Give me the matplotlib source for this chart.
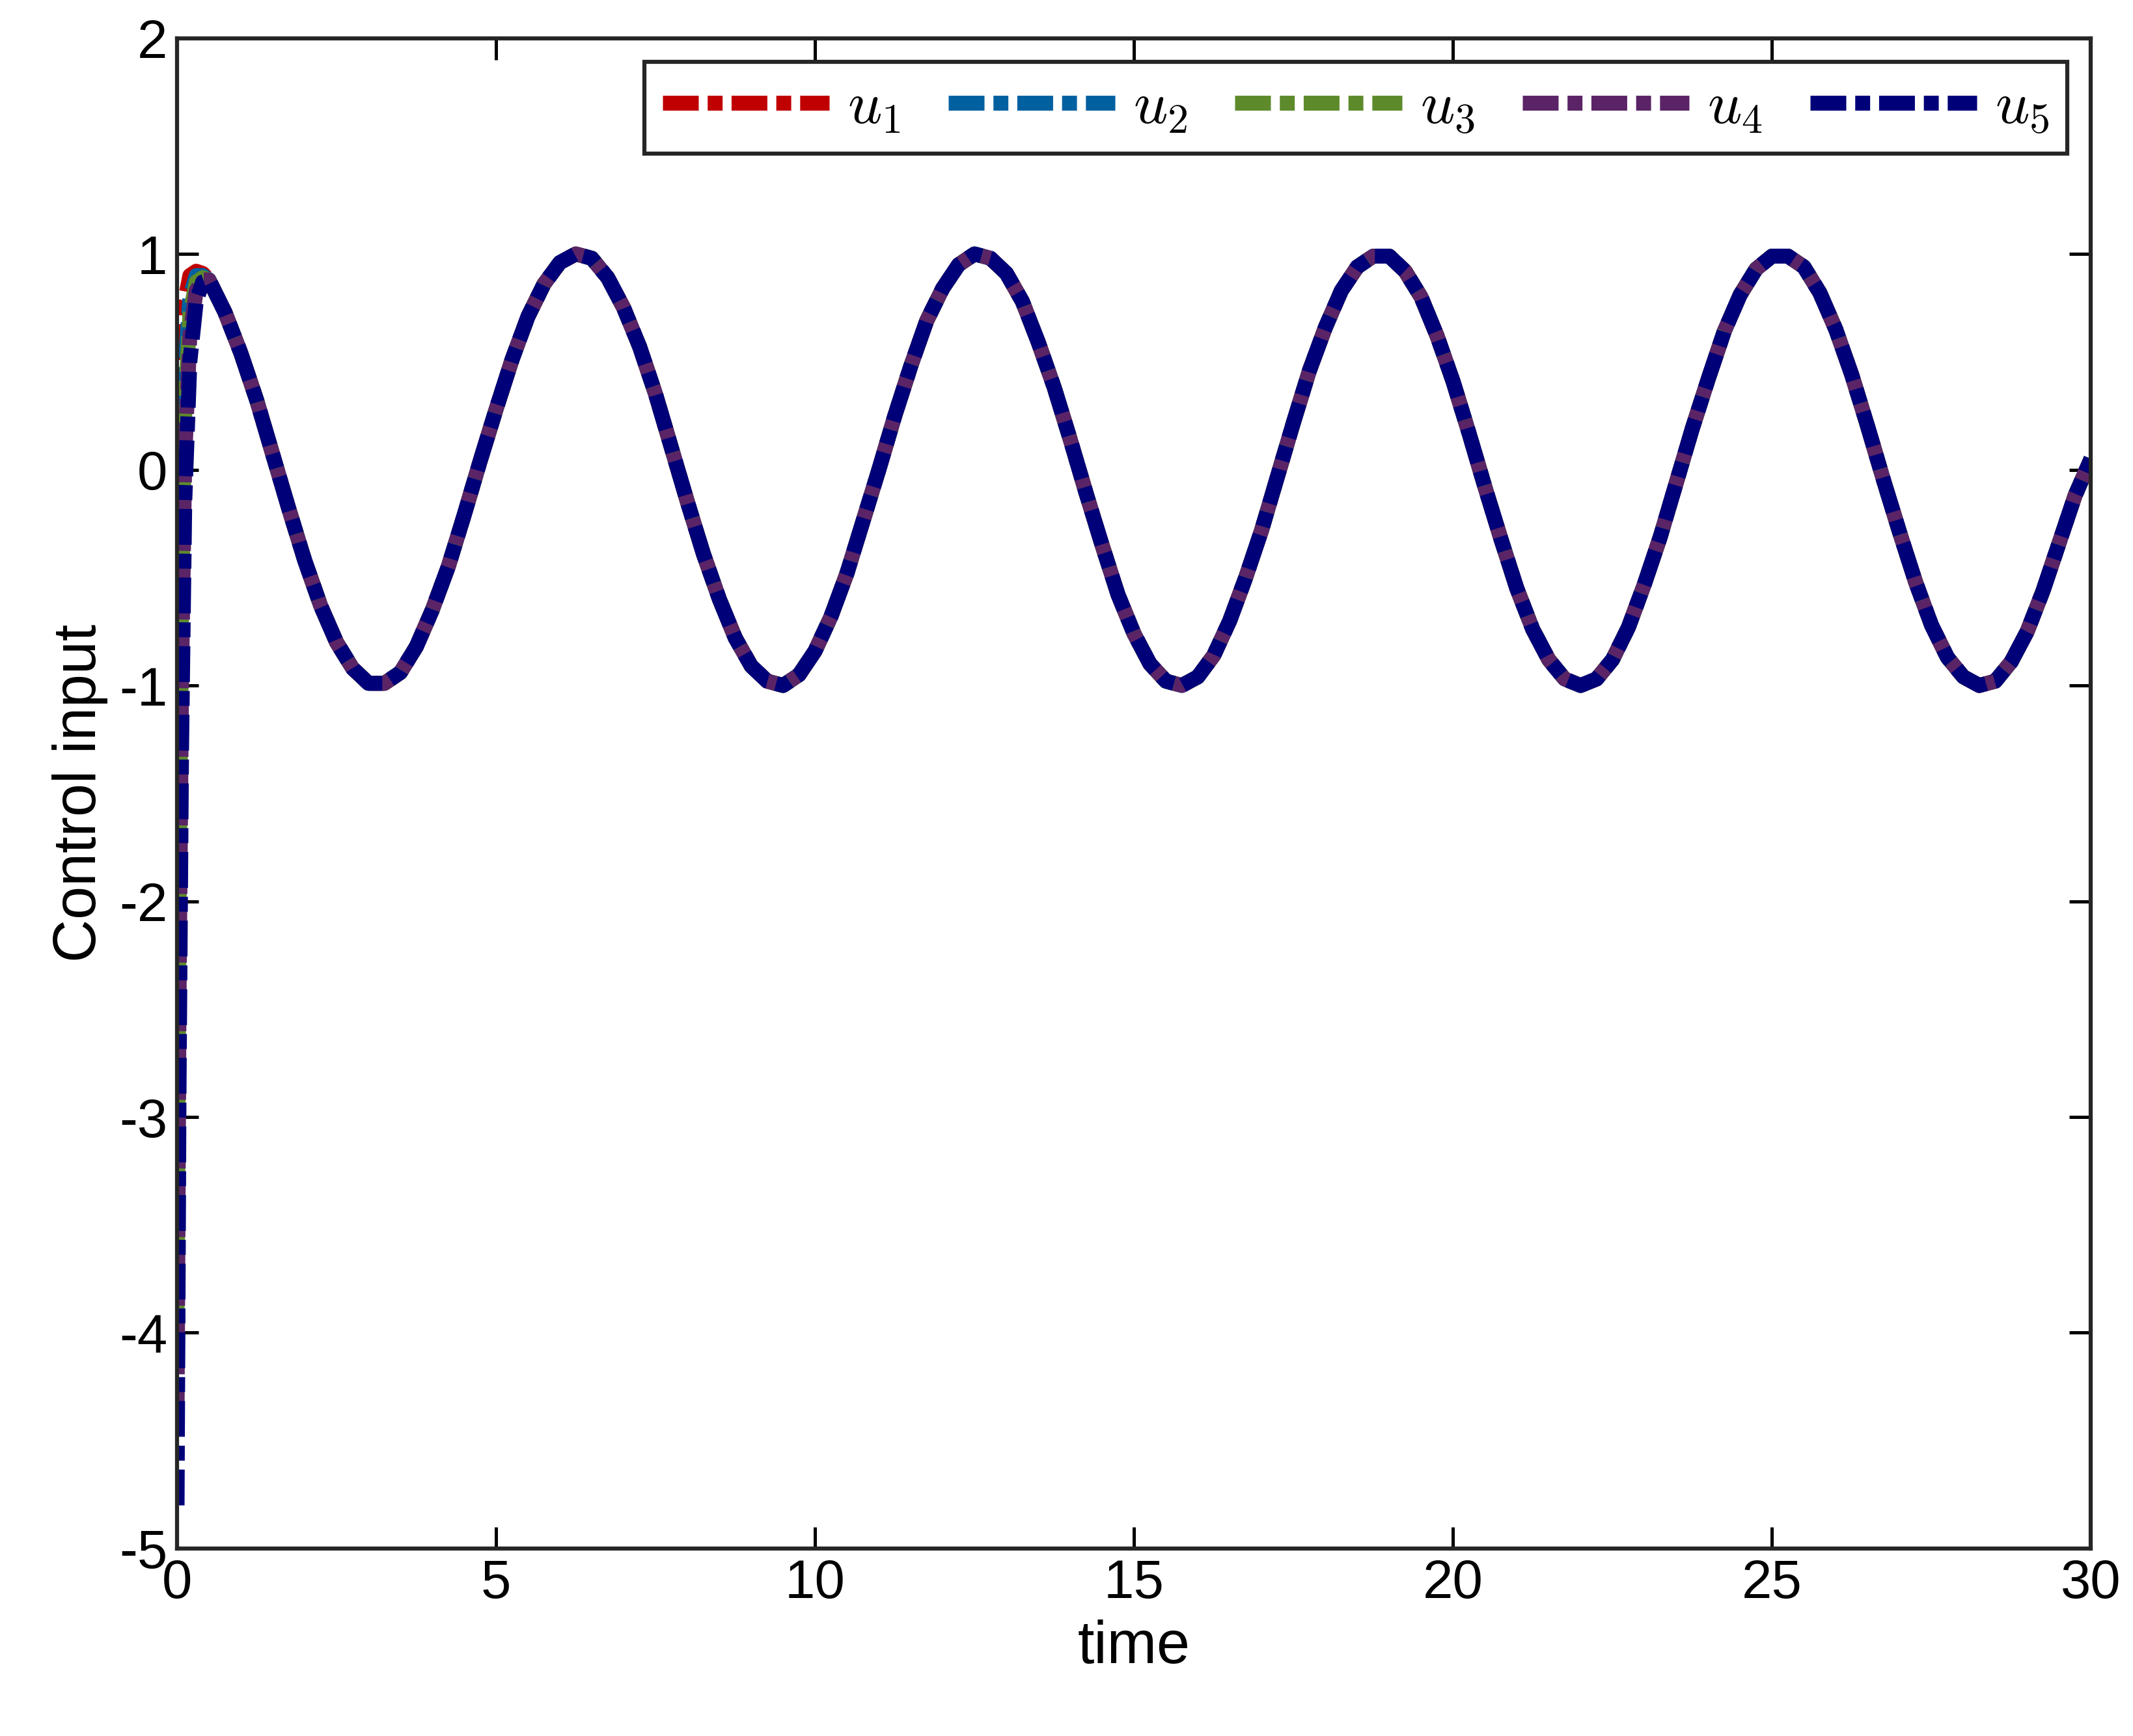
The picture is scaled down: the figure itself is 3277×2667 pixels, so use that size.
import matplotlib.pyplot as plt
import numpy as np

plt.rcParams["font.family"] = ["Liberation Sans", "DejaVu Sans"]
plt.rcParams["mathtext.fontset"] = "cm"
plt.rcParams["axes.unicode_minus"] = False

# start-up transient of each input (time, value)
t_tr = [0.0, 0.03, 0.07, 0.12, 0.2, 0.3, 0.4]
u1_tr = [-1.4, -0.3, 0.4, 0.78, 0.9, 0.92, 0.91]
u2_tr = [-3.3, -1.6, -0.3, 0.45, 0.8, 0.9, 0.9]
u3_tr = [-4.0, -2.1, -0.7, 0.25, 0.72, 0.87, 0.89]
u4_tr = [-4.4, -2.5, -1.0, 0.05, 0.62, 0.83, 0.88]
u5_tr = [-4.8, -2.9, -1.3, -0.15, 0.5, 0.78, 0.87]

# common steady response, every 0.25 s from t=0.5 to 30
u_ss = [0.88, 0.73, 0.54, 0.32, 0.07, -0.18, -0.42, -0.63, -0.80, -0.92,
        -0.99, -0.99, -0.94, -0.82, -0.65, -0.45, -0.21, 0.04, 0.28, 0.51,
        0.71, 0.86, 0.96, 1.00, 0.98, 0.89, 0.75, 0.57, 0.35, 0.10,
        -0.15, -0.39, -0.60, -0.78, -0.91, -0.98, -1.00, -0.95, -0.84, -0.68,
        -0.48, -0.24, 0.00, 0.25, 0.48, 0.69, 0.84, 0.95, 1.00, 0.98,
        0.91, 0.78, 0.59, 0.38, 0.14, -0.11, -0.35, -0.58, -0.76, -0.90,
        -0.98, -1.00, -0.96, -0.86, -0.70, -0.50, -0.28, -0.03, 0.22, 0.46,
        0.66, 0.83, 0.94, 0.99, 0.99, 0.92, 0.80, 0.62, 0.41, 0.17,
        -0.08, -0.32, -0.55, -0.74, -0.88, -0.97, -1.00, -0.97, -0.88, -0.73,
        -0.53, -0.31, -0.06, 0.19, 0.42, 0.64, 0.81, 0.93, 0.99, 0.99,
        0.94, 0.82, 0.65, 0.44, 0.20, -0.05, -0.29, -0.52, -0.72, -0.87,
        -0.96, -1.00, -0.98, -0.89, -0.75, -0.56, -0.34, -0.12, 0.05]
t_ss = list(np.linspace(0.5, 30, len(u_ss)))

series = [u1_tr, u2_tr, u3_tr, u4_tr, u5_tr]
colors = ["#c00000", "#0060a0", "#5e8a2c", "#5a2466", "#000078"]
labels = [r"$u_1$", r"$u_2$", r"$u_3$", r"$u_4$", r"$u_5$"]

fig = plt.figure(figsize=(3278 / 300, 2667 / 300), dpi=300)
ax = fig.add_axes([0.083, 0.108, 0.897, 0.87])

for tr, c, lab in zip(series, colors, labels):
    ax.plot(t_tr + t_ss, tr + u_ss, color=c, lw=5.5, label=lab,
            dashes=(2.4, 0.6, 1.0, 0.6), dash_capstyle="butt")

ax.set_xlim(0, 30)
ax.set_ylim(-5, 2)
ax.set_xticks(range(0, 31, 5))
ax.set_yticks(range(-5, 3))
ax.tick_params(direction="in", top=True, right=True, labelsize=20, length=8, width=1.2)
for s in ax.spines.values():
    s.set_linewidth(1.5)
    s.set_color("#262626")
ax.set_xlabel("time", fontsize=22)
ax.set_ylabel("Control input", fontsize=22)

leg = ax.legend(loc="upper right", ncol=5, fontsize=22, fancybox=False,
                edgecolor="#262626", framealpha=1, handlelength=2.8,
                columnspacing=0.8, handletextpad=0.3, borderaxespad=0.4,
                borderpad=0.3)
leg.get_frame().set_linewidth(1.5)

fig.savefig("out.png", dpi=300)
